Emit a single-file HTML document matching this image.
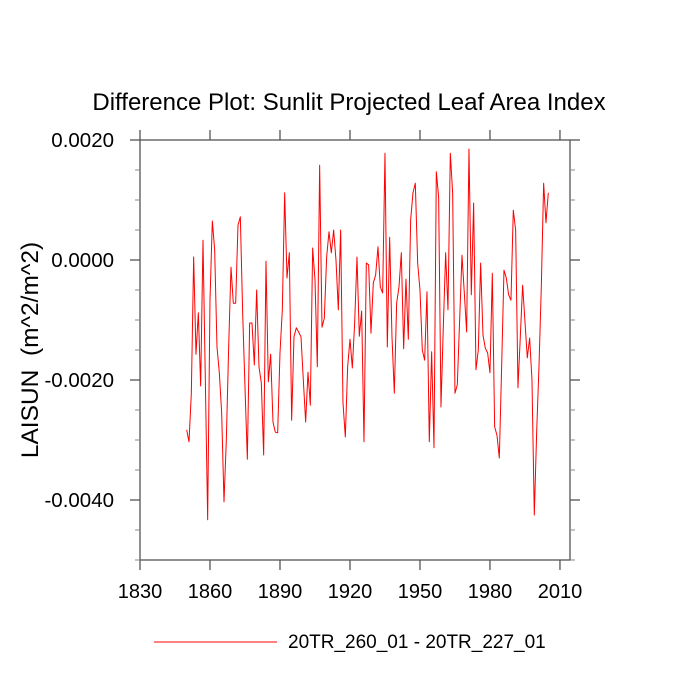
<!DOCTYPE html>
<html><head><meta charset="utf-8"><style>
html,body{margin:0;padding:0;background:#fff;}
svg{display:block;font-family:"Liberation Sans",sans-serif;}
</style></head><body>
<svg id="chart" width="700" height="700" viewBox="0 0 700 700">
<text x="349" y="110" text-anchor="middle" font-size="24" fill="#000">Difference Plot: Sunlit Projected Leaf Area Index</text>
<text transform="translate(38,350) rotate(-90)" text-anchor="middle" font-size="24.5" fill="#000">LAISUN &#160;(m^2/m^2)</text>
<g id="axes"></g>
<g id="series"></g>
<line x1="154" y1="642" x2="277" y2="642" stroke="#ff0000" stroke-width="1"/>
<text x="288" y="648" font-size="19" fill="#000">20TR_260_01 - 20TR_227_01</text>
</svg>
<script>
const startYear = 1850;
const values = [-2.83,-3.03,-2.22,0.05,-1.57,-0.88,-2.10,0.33,-2.00,-4.33,-0.67,0.65,0.17,-1.45,-1.88,-2.55,-4.03,-3.00,-1.45,-0.12,-0.72,-0.72,0.58,0.72,-0.88,-2.12,-3.32,-1.05,-1.05,-1.75,-0.50,-1.78,-2.05,-3.25,-0.02,-2.03,-1.57,-2.70,-2.87,-2.88,-1.55,-0.83,1.12,-0.30,0.12,-2.67,-1.28,-1.13,-1.20,-1.28,-2.00,-2.70,-1.87,
-2.42,0.20,-0.33,-1.78,1.58,-1.12,-0.97,0.05,0.47,0.12,0.50,0,-0.83,0.50,-2.38,-2.95,-1.78,-1.32,-1.80,-1.05,0.05,-1.27,-0.85,-3.03,-0.05,-0.08,-1.22,-0.38,-0.25,0.22,-0.45,-0.55,1.78,-1.45,0.38,-1.28,-2.22,-0.72,-0.45,0.12,-1.48,-0.32,-1.32,0.67,1.12,1.28,-0.05,-0.50,-1.50,-1.67,-0.53,-3.03,
-1.53,-3.13,1.47,1.05,-2.45,-1.12,0.12,-0.83,1.78,1.12,-2.22,-2.08,-1.00,0.08,-0.55,-1.20,1.85,-0.58,0.95,-1.83,-1.50,-0.05,-1.25,-1.47,-1.55,-1.88,-0.22,-2.78,-2.92,-3.30,-1.78,-0.17,-0.30,-0.58,-0.67,0.83,0.50,-2.13,-1.28,-0.42,-1.03,-1.63,-1.30,-2.00,-4.25,-2.88,-1.78,-0.45,1.28,0.62,1.12];
const xTicks = [1830,1860,1890,1920,1950,1980,2010];
const yTicks = [0.002,0,-0.002,-0.004];
const yTickLabels = ["0.0020","0.0000","-0.0020","-0.0040"];
const yMinor = [0.0015,0.001,0.0005,-0.0005,-0.001,-0.0015,-0.0025,-0.003,-0.0035,-0.0045,-0.005];

const L=140,R=570,T=140,B=560;
const x0=1830, x1=2014.3, y0=-0.005, y1=0.002;
function sx(v){return L+(v-x0)/(x1-x0)*(R-L);}
function sy(v){return B-(v-y0)/(y1-y0)*(B-T);}
const NS="http://www.w3.org/2000/svg";
const axes=document.getElementById('axes');
function mk(tag,attrs,parent){const e=document.createElementNS(NS,tag);for(const k in attrs)e.setAttribute(k,attrs[k]);parent.appendChild(e);return e;}
const frame=mk('rect',{x:L,y:T,width:R-L,height:B-T,fill:'none',stroke:'#555','stroke-width':1.3},axes);


xTicks.forEach(t=>{
  const x=sx(t);
  const a=mk('line',{x1:x,y1:B,x2:x,y2:B+10,stroke:'#555','stroke-width':1.3},axes);
  
  
  const b=mk('line',{x1:x,y1:T,x2:x,y2:T-10,stroke:'#555','stroke-width':1.3},axes);
  
  
  const lb=mk('text',{x:x,y:B+38,'text-anchor':'middle','font-size':20,fill:'#000'},axes);
  lb.textContent=t;
  
  
});
yTicks.forEach((t,i)=>{
  const y=sy(t);
  const a=mk('line',{x1:L-10,y1:y,x2:L,y2:y,stroke:'#555','stroke-width':1.3},axes);
  
  
  const b=mk('line',{x1:R,y1:y,x2:R+10,y2:y,stroke:'#555','stroke-width':1.3},axes);
  
  
  const lb=mk('text',{x:L-26,y:y+7,'text-anchor':'end','font-size':20.5,fill:'#000'},axes);
  lb.textContent=yTickLabels[i];
  
  
});
yMinor.forEach(t=>{
  const y=sy(t);
  const a=mk('line',{x1:L-5,y1:y,x2:L,y2:y,stroke:'#888','stroke-width':1},axes);
  
  
  const b=mk('line',{x1:R,y1:y,x2:R+5,y2:y,stroke:'#888','stroke-width':1},axes);
  
  
});
const pts=values.map((v,i)=>sx(startYear+i).toFixed(2)+','+sy(v*0.001).toFixed(2)).join(' ');
const line=mk('polyline',{points:pts,fill:'none',stroke:'#ff0000','stroke-width':1,'stroke-linejoin':'round'},document.getElementById('series'));


</script>
</body></html>
